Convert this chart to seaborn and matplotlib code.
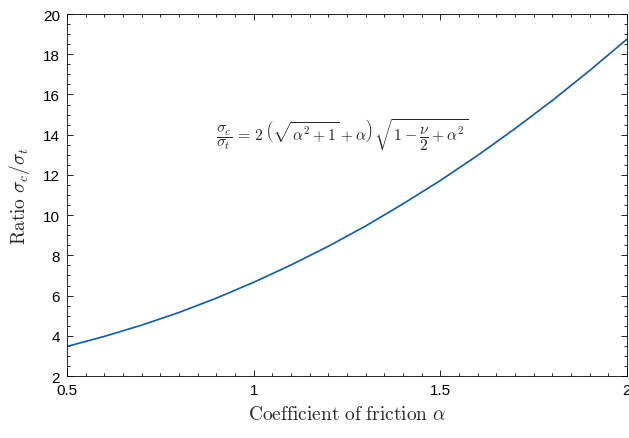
import matplotlib
matplotlib.use("Agg")
import matplotlib.pyplot as plt
from matplotlib.ticker import MultipleLocator
import seaborn as sns
import pandas as pd

# Friction coefficient and the corresponding compressive/tensile strength ratio
alpha = [0.5, 0.6, 0.7, 0.8, 0.9, 1.0, 1.1, 1.2, 1.3, 1.4, 1.5, 1.6, 1.7, 1.8, 1.9, 2.0]
ratio = [3.47, 3.97, 4.53, 5.16, 5.87, 6.66, 7.52, 8.45, 9.46, 10.56, 11.72,
         12.97, 14.30, 15.70, 17.19, 18.75]

x_ticks = [0.5, 1, 1.5, 2]
x_tick_labels = ["0.5", "1", "1.5", "2"]
y_ticks = [2, 4, 6, 8, 10, 12, 14, 16, 18, 20]

df = pd.DataFrame({"alpha": alpha, "ratio": ratio})

sns.set_theme(style="ticks")
plt.rcParams.update({
    "font.family": ["Liberation Sans", "DejaVu Sans"],
    "mathtext.fontset": "cm",
    "xtick.direction": "in",
    "ytick.direction": "in",
    "xtick.top": True,
    "ytick.right": True,
    "xtick.major.size": 4,
    "ytick.major.size": 4,
    "xtick.minor.size": 2.2,
    "ytick.minor.size": 2.2,
    "xtick.major.width": 0.6,
    "ytick.major.width": 0.6,
    "xtick.minor.width": 0.6,
    "ytick.minor.width": 0.6,
    "axes.linewidth": 0.6,
    "axes.edgecolor": "black",
    "xtick.color": "black",
    "ytick.color": "black",
})

fig = plt.figure(figsize=(6.29, 4.39), dpi=100)
ax = fig.add_axes([0.1065, 0.1412, 0.8903, 0.8246])

sns.lineplot(data=df, x="alpha", y="ratio", ax=ax, color="#0C5DA5", linewidth=1.2)

ax.set_xlim(0.5, 2)
ax.set_ylim(2, 20)
ax.set_xticks(x_ticks)
ax.set_xticklabels(x_tick_labels)
ax.set_yticks(y_ticks)
ax.xaxis.set_minor_locator(MultipleLocator(0.05))
ax.yaxis.set_minor_locator(MultipleLocator(0.5))
ax.tick_params(axis="both", which="major", labelsize=11, pad=5)
ax.tick_params(axis="both", which="both", top=True, right=True)

ax.set_xlabel(r"$\mathrm{Coefficient\ of\ friction}\ \alpha$", fontsize=14, labelpad=6)
ax.set_ylabel(r"$\mathrm{Ratio}\ \sigma_c/\sigma_t$", fontsize=14, labelpad=8)

ax.text(1.237, 14.05,
        r"$\dfrac{\sigma_c}{\sigma_t}\,=\,2\,\left(\sqrt{\alpha^2+1}+\alpha\right)\,\sqrt{1-\dfrac{\nu}{2}+\alpha^2}$",
        fontsize=11.3, ha="center", va="center")

fig.savefig("out.png", dpi=100)
